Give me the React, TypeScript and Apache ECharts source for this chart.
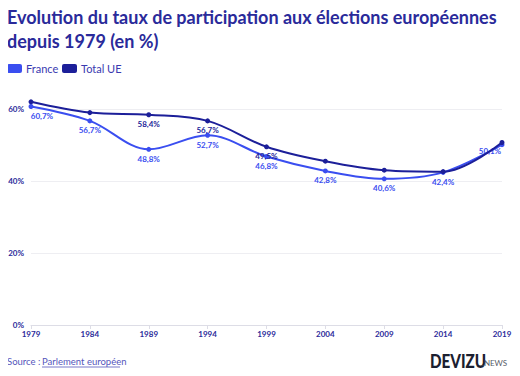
import React, { useEffect, useRef } from "react";
import * as echarts from "echarts";

const years = ["1979", "1984", "1989", "1994", "1999", "2004", "2009", "2014", "2019"];
const france = [60.7, 56.7, 48.8, 52.7, 46.8, 42.8, 40.6, 42.4, 50.1];
const totalUE = [62.0, 59.0, 58.4, 56.7, 49.5, 45.5, 43.0, 42.6, 50.7];
const ueLabelIdx = [2, 3, 4];

const FR = "#3a4ef0";
const UE = "#1c1f99";
const NAVY = "#2a2a9a";
const FONT = "Lato, 'Noto Sans', sans-serif";

const fmt = (v: number) => v.toFixed(1).replace(".", ",") + "%";

export default function App() {
  const ref = useRef<HTMLDivElement>(null);
  useEffect(() => {
    const chart = echarts.init(ref.current!, null, { renderer: "svg" });
    const last = france.length - 1;
    chart.setOption({
      animation: false,
      textStyle: { fontFamily: FONT },
      grid: { left: 31, right: 18, top: 109, bottom: 51 },
      xAxis: {
        type: "category",
        data: years,
        boundaryGap: false,
        axisLine: { lineStyle: { color: "#dddde6" } },
        axisTick: { lineStyle: { color: "#dddde6" }, length: 4 },
        axisLabel: { color: NAVY, fontWeight: "bold", fontSize: 8, margin: 5, fontFamily: FONT },
      },
      yAxis: {
        type: "value",
        min: 0,
        max: 60,
        interval: 20,
        axisLabel: { color: NAVY, fontWeight: "bold", fontSize: 8, margin: 7, formatter: "{value}%", fontFamily: FONT },
        splitLine: { lineStyle: { color: "#eeeef2" } },
      },
      series: [
        {
          name: "Total UE",
          type: "line",
          data: totalUE.map((v, i) => ({
            value: v,
            label: { show: ueLabelIdx.includes(i) },
          })),
          smooth: 0.35,
          clip: false,
          symbol: "circle",
          symbolSize: 5,
          lineStyle: { color: UE, width: 2 },
          itemStyle: { color: UE },
          label: {
            show: false,
            position: "bottom",
            distance: 3,
            color: UE,
            fontSize: 8,
            fontWeight: "bold",
            fontFamily: FONT,
            formatter: (p: any) => fmt(p.value),
          },
          z: 3,
        },
        {
          name: "France",
          type: "line",
          data: france.map((v, i) => ({
            value: v,
            label:
              i === 0
                ? { offset: [11, 0] }
                : i === last
                ? { offset: [-12, -3] }
                : {},
          })),
          smooth: 0.35,
          clip: false,
          symbol: "circle",
          symbolSize: 5,
          lineStyle: { color: FR, width: 2 },
          itemStyle: { color: FR },
          label: {
            show: true,
            position: "bottom",
            distance: 3,
            color: FR,
            fontSize: 8,
            fontWeight: "bold",
            fontFamily: FONT,
            formatter: (p: any) => fmt(p.value),
          },
          z: 2,
        },
      ],
      graphic: [
        {
          type: "text",
          left: 7,
          top: 5,
          style: {
            text: "Evolution du taux de participation aux élections européennes\ndepuis 1979 (en %)",
            fill: NAVY,
            font: `bold 18px ${FONT}`,
            lineHeight: 24,
          },
        },
        { type: "rect", shape: { x: 7, y: 64, width: 15, height: 9, r: 2 }, style: { fill: FR } },
        { type: "text", x: 26, y: 63, style: { text: "France", fill: "#3a3ab0", font: `11px ${FONT}` } },
        { type: "rect", shape: { x: 62, y: 64, width: 15, height: 9, r: 2 }, style: { fill: UE } },
        { type: "text", x: 81, y: 63, style: { text: "Total UE", fill: "#3a3ab0", font: `11px ${FONT}` } },
        { type: "text", x: 7, y: 356, style: { text: "Source :", fill: "#5555bb", font: `9.5px ${FONT}` } },
        { type: "text", x: 42, y: 356, style: { text: "Parlement européen", fill: "#5555bb", font: `9.5px ${FONT}` } },
        { type: "line", shape: { x1: 42, y1: 367, x2: 120, y2: 367 }, style: { stroke: "#5555bb", lineWidth: 0.8 } },
        { type: "text", x: 430, y: 351, scaleX: 0.8, style: { text: "DEVIZU", fill: "#1b2030", font: `900 19px ${FONT}` } },
        { type: "text", x: 482, y: 359, style: { text: ".NEWS", fill: "#555a66", font: `8px ${FONT}` } },
      ],
    });
    return () => chart.dispose();
  }, []);
  return <div ref={ref} style={{ width: 520, height: 376, margin: -8 }} />;
}
